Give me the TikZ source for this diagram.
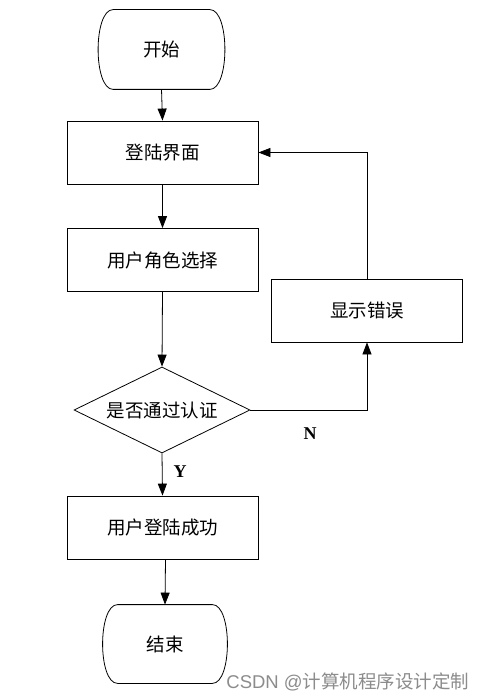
\documentclass[tikz,border=0pt]{standalone}
\usepackage{fontspec}
\setmainfont{Liberation Serif}
\newfontfamily\cjk{Noto Sans CJK SC}
\newfontfamily\wmsans{Liberation Sans}
\usetikzlibrary{shapes.geometric,arrows.meta,calc}
\begin{document}
\begin{tikzpicture}[x=1pt,y=-1pt,
  every path/.style={line width=0.8pt},
  box/.style={draw, rectangle, minimum width=191pt, minimum height=63pt, inner sep=0pt, font=\cjk\fontsize{18.5}{22}\selectfont},
  term/.style={rectangle, minimum width=128pt, minimum height=79pt, inner sep=0pt, font=\cjk\fontsize{18.5}{22}\selectfont},
  dec/.style={draw, diamond, shape aspect=2, minimum width=176pt, minimum height=86pt, inner sep=0pt, font=\cjk\fontsize{18.5}{22}\selectfont},
  arr/.style={-{Triangle[length=12pt,width=9pt]}},
  lab/.style={font=\bfseries\fontsize{18}{20}\selectfont}
]
\useasboundingbox (0,0) rectangle (490,700);
\fill[white] (0,0) rectangle (490,700);
\node[term] (start) at (161.5,49.5) {开始};
\node[box] (login) at (162.5,152.5) {登陆界面};
\node[box] (role) at (162.5,260) {用户角色选择};
\node[dec] (check) at (162,410) {是否通过认证};
\node[box] (err) at (367,310.5) {显示错误};
\node[box] (succ) at (162.5,527.5) {用户登陆成功};
\node[term, minimum width=126pt, minimum height=78pt] (end) at (165,644) {结束};
% terminal outlines
\foreach \n in {start,end}{
  \draw ($(\n.north west)+(16,0)$) -- ($(\n.north east)+(-16,0)$)
    .. controls ($(\n.north east)+(4,0)$) and ($(\n.south east)+(4,0)$) .. ($(\n.south east)+(-16,0)$)
    -- ($(\n.south west)+(16,0)$)
    .. controls ($(\n.south west)+(-4,0)$) and ($(\n.north west)+(-4,0)$) .. ($(\n.north west)+(16,0)$) -- cycle;
}
\draw[arr] (start.south) -- (login.north);
\draw[arr] (login.south) -- (role.north);
\draw[arr] (role.south) -- (check.north);
\draw[arr] (check.south) -- (succ.north);
\draw[arr] ([xshift=3pt]succ.south) -- (end.north);
\draw[arr] (check.east) -| (err.south);
\draw[arr] (err.north) |- (login.east);
\node[lab] (nlab) at (310,434) {N};
\node[lab] (ylab) at (180,472) {Y};
\node[anchor=west, text=black!45, font=\fontsize{18.5}{20}\selectfont, inner sep=0pt] (wm) at (226,682) {\wmsans CSDN @\cjk 计算机程序设计定制};
\end{tikzpicture}
\end{document}
